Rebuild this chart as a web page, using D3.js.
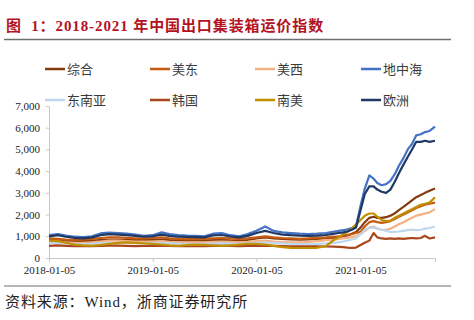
<!DOCTYPE html>
<html>
<head>
<meta charset="utf-8">
<script src="https://cdn.jsdelivr.net/npm/d3@7"></script>
<style>
	body { margin: 0; background: #fff; }
	svg { display: block; }
</style>
</head>
<body>
<div id="chart"></div>
<script>
// dates of the readings (monthly, half-monthly once freight rates take off)
const dates = [
	"2018-01-05", "2018-02-05", "2018-03-05", "2018-04-05", "2018-05-05", "2018-06-05",
	"2018-07-05", "2018-08-05", "2018-09-05", "2018-10-05", "2018-11-05", "2018-12-05",
	"2019-01-05", "2019-02-05", "2019-03-05", "2019-04-05", "2019-05-05", "2019-06-05",
	"2019-07-05", "2019-08-05", "2019-09-05", "2019-10-05", "2019-11-05", "2019-12-05",
	"2020-01-05", "2020-02-05", "2020-03-05", "2020-04-05", "2020-05-05", "2020-06-05",
	"2020-07-05", "2020-08-05", "2020-09-05", "2020-10-05", "2020-10-20", "2020-11-05",
	"2020-11-20", "2020-12-05", "2020-12-20",
	"2021-01-05", "2021-01-20", "2021-02-05", "2021-02-20", "2021-03-05", "2021-03-20",
	"2021-04-05", "2021-04-20", "2021-05-05", "2021-05-20", "2021-06-05", "2021-06-20",
	"2021-07-05", "2021-07-20", "2021-08-05", "2021-08-20", "2021-09-05", "2021-09-24"
];

const composite = [
	820, 840, 800, 780, 780, 800, 830, 850, 850, 830, 820, 820,
	840, 860, 820, 810, 800, 800, 800, 820, 830, 810, 800, 830,
	900, 950, 900, 880, 860, 850, 860, 880, 900, 930, 960, 1000, 1040, 1120, 1200,
	1400, 1650, 1850, 1900, 1850, 1850, 1880, 1950, 2050, 2200, 2350, 2500, 2650, 2800, 2900, 3000, 3100, 3200
];
const usEast = [
	900, 880, 850, 830, 850, 880, 920, 950, 950, 930, 900, 900,
	920, 950, 900, 880, 870, 870, 880, 900, 920, 900, 880, 900,
	950, 1000, 950, 920, 900, 880, 900, 930, 950, 980, 1000, 1030, 1060, 1100, 1150,
	1200, 1450, 1650, 1700, 1650, 1620, 1650, 1700, 1800, 1900, 2000, 2100, 2200, 2300, 2380, 2450, 2500, 2550
];
const usWest = [
	750, 760, 720, 700, 700, 720, 760, 800, 800, 780, 760, 750,
	760, 780, 740, 720, 720, 720, 720, 740, 760, 740, 720, 740,
	780, 800, 760, 740, 720, 720, 740, 780, 820, 850, 880, 900, 930, 960, 1000,
	1100, 1250, 1400, 1450, 1350, 1300, 1300, 1350, 1450, 1550, 1650, 1750, 1850, 1950, 2000, 2050, 2100, 2250
];
const mediterranean = [
	1050, 1100, 1030, 980, 960, 1000, 1130, 1170, 1150, 1120, 1080, 1020,
	1050, 1180, 1100, 1050, 1030, 1020, 1000, 1120, 1150, 1050, 1000, 1100,
	1250, 1450, 1250, 1180, 1150, 1120, 1100, 1120, 1150, 1220, 1250, 1280, 1320, 1380, 1450,
	2400, 3200, 3800, 3650, 3450, 3350, 3400, 3550, 3850, 4250, 4600, 5000, 5250, 5650, 5700, 5800, 5850, 6050
];
const southeastAsia = [
	680, 700, 670, 650, 640, 650, 680, 700, 700, 690, 680, 680,
	690, 700, 680, 660, 650, 650, 650, 660, 670, 660, 650, 670,
	700, 720, 690, 670, 650, 640, 640, 650, 670, 700, 730, 760, 800, 850, 900,
	1100, 1300, 1400, 1400, 1350, 1300, 1250, 1200, 1200, 1220, 1250, 1280, 1300, 1280, 1300, 1350, 1380, 1450
];
const korea = [
	560, 580, 560, 540, 540, 550, 560, 570, 570, 560, 550, 560,
	560, 570, 560, 550, 550, 550, 550, 560, 560, 560, 550, 560,
	560, 570, 560, 550, 540, 540, 540, 540, 530, 520, 510, 500, 480, 470, 480,
	600, 700, 800, 1150, 950, 900, 880, 900, 880, 900, 880, 900, 920, 900, 920, 1020, 900, 950
];
const southAmerica = [
	800, 780, 700, 620, 580, 560, 600, 650, 700, 720, 700, 680,
	650, 620, 580, 560, 600, 620, 600, 580, 560, 580, 620, 650,
	650, 620, 560, 500, 470, 460, 460, 470, 550, 850, 950, 1100, 1200, 1350, 1550,
	1750, 1950, 2050, 2050, 1900, 1750, 1700, 1720, 1850, 1950, 2050, 2150, 2250, 2350, 2450, 2500, 2550, 2800
];
const europe = [
	1000, 1050, 980, 930, 900, 950, 1050, 1100, 1080, 1050, 1020, 980,
	1000, 1080, 1020, 980, 970, 960, 950, 1040, 1060, 990, 950, 1020,
	1150, 1250, 1150, 1080, 1050, 1030, 1020, 1030, 1060, 1120, 1150, 1180, 1220, 1300, 1400,
	2200, 2950, 3300, 3300, 3150, 3050, 3000, 3150, 3500, 3900, 4300, 4650, 5000, 5350, 5350, 5400, 5350, 5400
];

const seriesNames = ["综合", "美东", "美西", "地中海", "东南亚", "韩国", "南美", "欧洲"];
const seriesValues = [composite, usEast, usWest, mediterranean, southeastAsia, korea, southAmerica, europe];
const seriesColors = ["#843c0c", "#c55a11", "#f4b183", "#4472c4", "#bdd7ee", "#a9471c", "#bf8f00", "#1f3864"];

const yTicks = [0, 1000, 2000, 3000, 4000, 5000, 6000, 7000];
const xTickLabels = ["2018-01-05", "2019-01-05", "2020-01-05", "2021-01-05"];

const titleText = "图  1：2018-2021 年中国出口集装箱运价指数";
const sourceText = "资料来源：Wind，浙商证券研究所";

let width = 474;
let height = 320;
let serif = "'Times New Roman', 'Liberation Serif', 'Noto Sans CJK SC', serif";

let parse = d3.timeParse("%Y-%m-%d");
let times = dates.map(parse);

let svg = d3.select("#chart")
	.append("svg")
	.attr("width", width)
	.attr("height", height);

// title + rule
svg.append("text")
	.attr("x", 6)
	.attr("y", 31)
	.style("font-family", serif)
	.style("font-size", "15px")
	.style("font-weight", "bold")
	.style("letter-spacing", "0.9px")
	.style("white-space", "pre")
	.style("fill", "#b3121f")
	.text(titleText);

svg.append("line")
	.attr("x1", 4).attr("x2", 451)
	.attr("y1", 39.5).attr("y2", 39.5)
	.style("stroke", "#6f6f6f")
	.style("stroke-width", 1.5);

let x = d3.scaleTime()
	.domain([parse("2018-01-05"), parse("2021-09-24")])
	.range([49, 435]);
let y = d3.scaleLinear().domain([0, 7000]).range([258, 106]);

// axes
let yAxis = d3.axisLeft(y)
	.tickValues(yTicks)
	.tickSize(3)
	.tickFormat(d3.format(","));
let gy = svg.append("g")
	.attr("class", "y axis")
	.attr("transform", "translate(" + 49 + ",0)")
	.call(yAxis);

let xAxis = d3.axisBottom(x)
	.tickValues(xTickLabels.map(parse))
	.tickSize(4)
	.tickFormat(d3.timeFormat("%Y-%m-%d"));
let gx = svg.append("g")
	.attr("class", "x axis")
	.attr("transform", "translate(0," + 258 + ")")
	.call(xAxis);

svg.selectAll(".axis path, .axis line")
	.style("stroke", "#c8c8c8");
svg.selectAll(".axis text")
	.style("font-family", serif)
	.style("font-size", "11px")
	.style("fill", "#222");
gy.selectAll("text").attr("x", -9);
gx.selectAll("text").attr("y", 8);

// series lines
let line = d3.line()
	.x((d, i) => x(times[i]))
	.y(d => y(d));

svg.append("g")
	.selectAll("path.content")
	.data(seriesValues)
	.enter().append("path")
	.attr("class", "content")
	.attr("d", d => line(d))
	.style("fill", "none")
	.style("stroke", (d, i) => seriesColors[i])
	.style("stroke-width", "2.2px")
	.style("stroke-linejoin", "round");

// legend, 4 columns x 2 rows
let legendX = [45, 150, 255, 361];
let legendY = [69, 100];
let legend = svg.append("g")
	.selectAll("g.item")
	.data(seriesNames)
	.enter().append("g")
	.attr("class", "item")
	.attr("transform", (d, i) => "translate(" + legendX[i % 4] + "," + legendY[Math.floor(i / 4)] + ")");

legend.append("line")
	.attr("x1", 0).attr("x2", 20)
	.attr("y1", 0).attr("y2", 0)
	.style("stroke", (d, i) => seriesColors[i])
	.style("stroke-width", 2.5);

legend.append("text")
	.attr("x", 22)
	.attr("y", 4.5)
	.style("font-family", "'Noto Sans CJK SC', sans-serif")
	.style("font-size", "13px")
	.style("fill", "#3a3a3a")
	.text(d => d);

// source footer
svg.append("line")
	.attr("x1", 4).attr("x2", 451)
	.attr("y1", 286).attr("y2", 286)
	.style("stroke", "#6f6f6f")
	.style("stroke-width", 1.2);

svg.append("text")
	.attr("x", 5)
	.attr("y", 307)
	.style("font-family", serif)
	.style("font-size", "15px")
	.style("letter-spacing", "0.9px")
	.style("fill", "#222")
	.text(sourceText);
</script>
</body>
</html>
